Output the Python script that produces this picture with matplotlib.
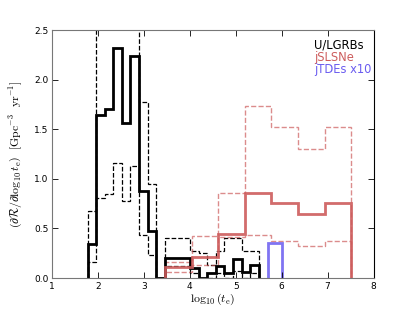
import numpy as np
import matplotlib
matplotlib.use("Agg")
import matplotlib.pyplot as plt

plt.rcParams['mathtext.fontset'] = 'cm'

# U/LGRBs: 20 bins from 1.78 to 5.50
grb_edges = np.linspace(1.78, 5.50, 21)
grb_mid = [0.34, 1.64, 1.70, 2.32, 1.56, 2.24, 0.88, 0.47, 0.0, 0.20,
           0.20, 0.20, 0.10, 0.0, 0.05, 0.12, 0.05, 0.19, 0.06, 0.13]
grb_hi = [0.68, 3.0, 3.0, 3.0, 3.0, 3.0, 1.77, 0.95, 0.0, 0.40,
          0.40, 0.40, 0.27, 0.25, 0.13, 0.27, 0.40, 0.40, 0.27, 0.27]
grb_lo = [0.165, 0.81, 0.85, 1.16, 0.78, 1.13, 0.43, 0.23, 0.0, 0.12,
          0.12, 0.12, 0.05, 0.0, 0.0, 0.05, 0.0, 0.07, 0.0, 0.05]

# jSLSNe: 7 bins from 3.46 to 7.52
sn_edges = np.linspace(3.46, 7.52, 8)
sn_mid = [0.11, 0.21, 0.44, 0.86, 0.76, 0.65, 0.76]
sn_hi = [0.16, 0.42, 0.86, 1.73, 1.52, 1.30, 1.52]
sn_lo = [0.06, 0.13, 0.41, 0.43, 0.37, 0.32, 0.37]

# jTDEs x10
tde_edges = [5.70, 6.00]
tde_mid = [0.35]

red = '#cd5c5c'
blue = '#6a5cf0'

fig = plt.figure(figsize=(4.15, 3.1), dpi=100)
ax = fig.add_axes([0.125, 0.103, 0.775, 0.8])

ax.stairs(grb_hi, grb_edges, color='black', ls='--', lw=0.9, baseline=0)
ax.stairs(grb_lo, grb_edges, color='black', ls='--', lw=0.9, baseline=0)
ax.stairs(sn_hi, sn_edges, color=red, ls='--', lw=1.0, alpha=0.7, baseline=0)
ax.stairs(sn_lo, sn_edges, color=red, ls='--', lw=1.0, alpha=0.7, baseline=0)
ax.stairs(grb_mid, grb_edges, color='black', lw=2, baseline=0)
ax.stairs(sn_mid, sn_edges, color=red, lw=2, alpha=0.9, baseline=0)
ax.stairs(tde_mid, tde_edges, color=blue, lw=2, alpha=0.85, baseline=0)

ax.set_xlim(1, 8)
ax.set_ylim(0, 2.5)
ax.set_xticks(range(1, 9))
ax.set_yticks(np.arange(0, 2.51, 0.5))
ax.set_yticklabels(['%.1f' % v for v in np.arange(0, 2.51, 0.5)])
ax.tick_params(direction='in', top=True, right=True, labelsize=6.5, length=4, width=0.6, pad=2.5)
for s in ['left', 'top', 'bottom']:
    ax.spines[s].set_color('#777777')
ax.spines['right'].set_color('black')

ax.set_xlabel(r'$\log_{10}(t_{\rm e})$', fontsize=8.5, labelpad=1)
ax.set_ylabel(r'$\left(\partial\mathcal{R}/\partial\log_{10}t_{\rm e}\right)\ \ [{\rm Gpc^{-3}\ \ yr^{-1}}]$',
              fontsize=8.5, labelpad=6)

ax.text(0.816, 0.94, 'U/LGRBs', color='black', transform=ax.transAxes, ha='left', va='center', fontsize=8.3)
ax.text(0.816, 0.89, 'jSLSNe', color=red, transform=ax.transAxes, ha='left', va='center', fontsize=8.3)
ax.text(0.816, 0.84, 'jTDEs x10', color=blue, transform=ax.transAxes, ha='left', va='center', fontsize=8.3)

fig.savefig('out.png', dpi=100)
